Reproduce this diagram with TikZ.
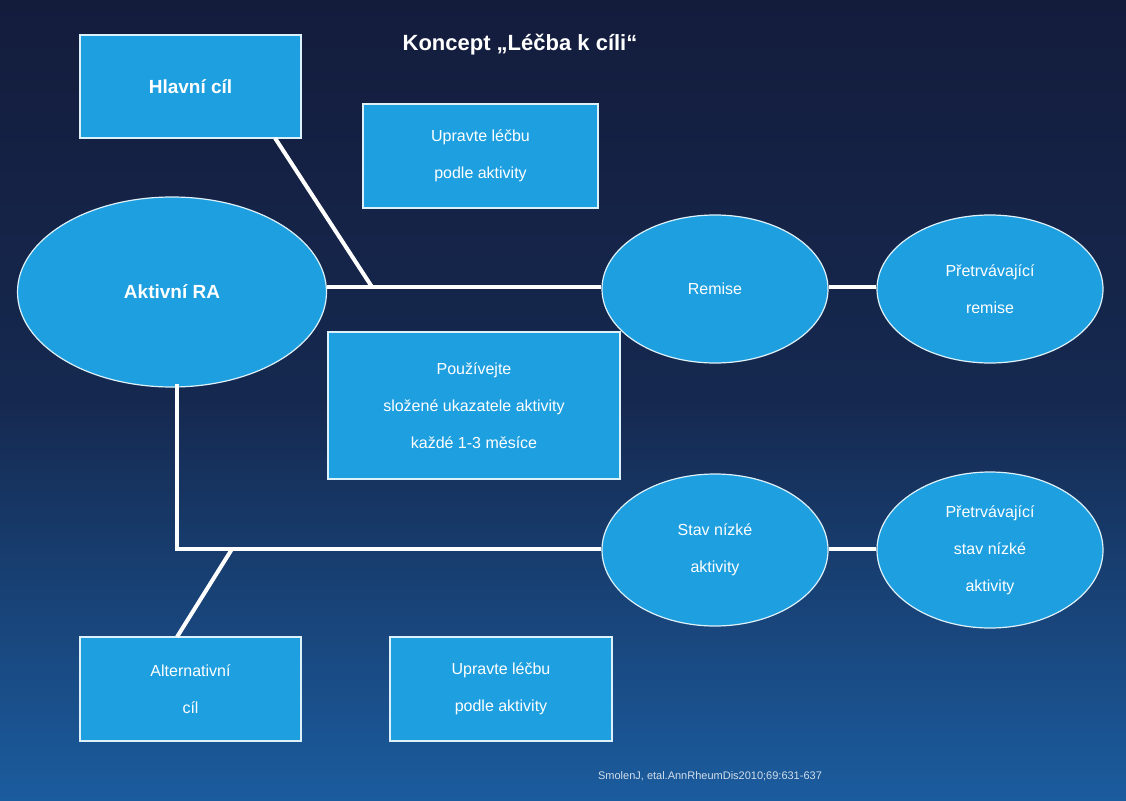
\documentclass[tikz,border=0pt]{standalone}
\usepackage{fontspec}
\setmainfont{Liberation Sans}
\usetikzlibrary{positioning,shapes.geometric}
\definecolor{skyfill}{HTML}{1E9FE0}
\definecolor{navytop}{HTML}{141C3C}
\definecolor{navybot}{HTML}{1B5C9E}
\tikzset{
    blob/.style={draw=white!85!skyfill, line width=1.2pt, fill=skyfill, text=white, align=center, font=\fontsize{16}{37}\selectfont},
    box/.style={blob, rectangle, inner sep=0pt},
    oval/.style={blob, ellipse, inner sep=0pt},
    link/.style={draw=white, line width=4pt}
}
\begin{document}
\begin{tikzpicture}[x=1pt, y=-1pt]
    \shade[top color=navytop, bottom color=navybot, middle color=navytop!80!navybot] (0,0) rectangle (1126,800);
    \useasboundingbox (0,0) rectangle (1126,800);
    \node[text=white, font=\bfseries\fontsize{22}{26}\selectfont] (title) at (520,45) {Koncept „Léčba k cíli“};
    % boxes
    \node[box, minimum width=221pt, minimum height=103pt, font=\bfseries\fontsize{19}{24}\selectfont] (goal) at (190.5,86.5) {Hlavní cíl};
    \node[box, minimum width=235pt, minimum height=104pt] (adjA) at (480.5,156) {Upravte léčbu\\podle aktivity};
    \node[box, minimum width=292pt, minimum height=147pt] (use) at (474,405.5) {Používejte\\složené ukazatele aktivity\\každé 1-3 měsíce};
    \node[box, minimum width=221pt, minimum height=104pt] (alt) at (190.5,689) {Alternativní\\cíl};
    \node[box, minimum width=222pt, minimum height=104pt] (adjB) at (501,689) {Upravte léčbu\\podle aktivity};
    % ovals
    \node[oval, minimum width=309pt, minimum height=190pt, font=\bfseries\fontsize{19}{24}\selectfont] (ra) at (172,292) {Aktivní RA};
    \node[oval, minimum width=226pt, minimum height=148pt] (rem) at (715,289) {Remise};
    \node[oval, minimum width=226pt, minimum height=148pt] (remK) at (990,289) {Přetrvávající\\remise};
    \node[oval, minimum width=226pt, minimum height=152pt] (low) at (715,550) {Stav nízké\\aktivity};
    \node[oval, minimum width=226pt, minimum height=156pt] (lowK) at (990,550) {Přetrvávající\\stav nízké\\aktivity};
    % connectors
    \coordinate (j1) at (372,287);
    \coordinate (j2) at (177,549);
    \coordinate (j3) at (232,549);
    \draw[link] (ra.east |- j1) -- (rem.west |- j1);
    \draw[link] (275,138) -- (j1);
    \draw[link] (rem.east |- j1) -- (remK.west |- j1);
    \draw[link] (177,384) -- (j2) -- (low.west |- j2);
    \draw[link] (low.east |- j2) -- (lowK.west |- j2);
    \draw[link] (177,637) -- (j3);
    \node[text=white!80!navybot, font=\fontsize{11}{13}\selectfont] (cite) at (710,776) {SmolenJ, etal.AnnRheumDis2010;69:631-637};
\end{tikzpicture}
\end{document}
